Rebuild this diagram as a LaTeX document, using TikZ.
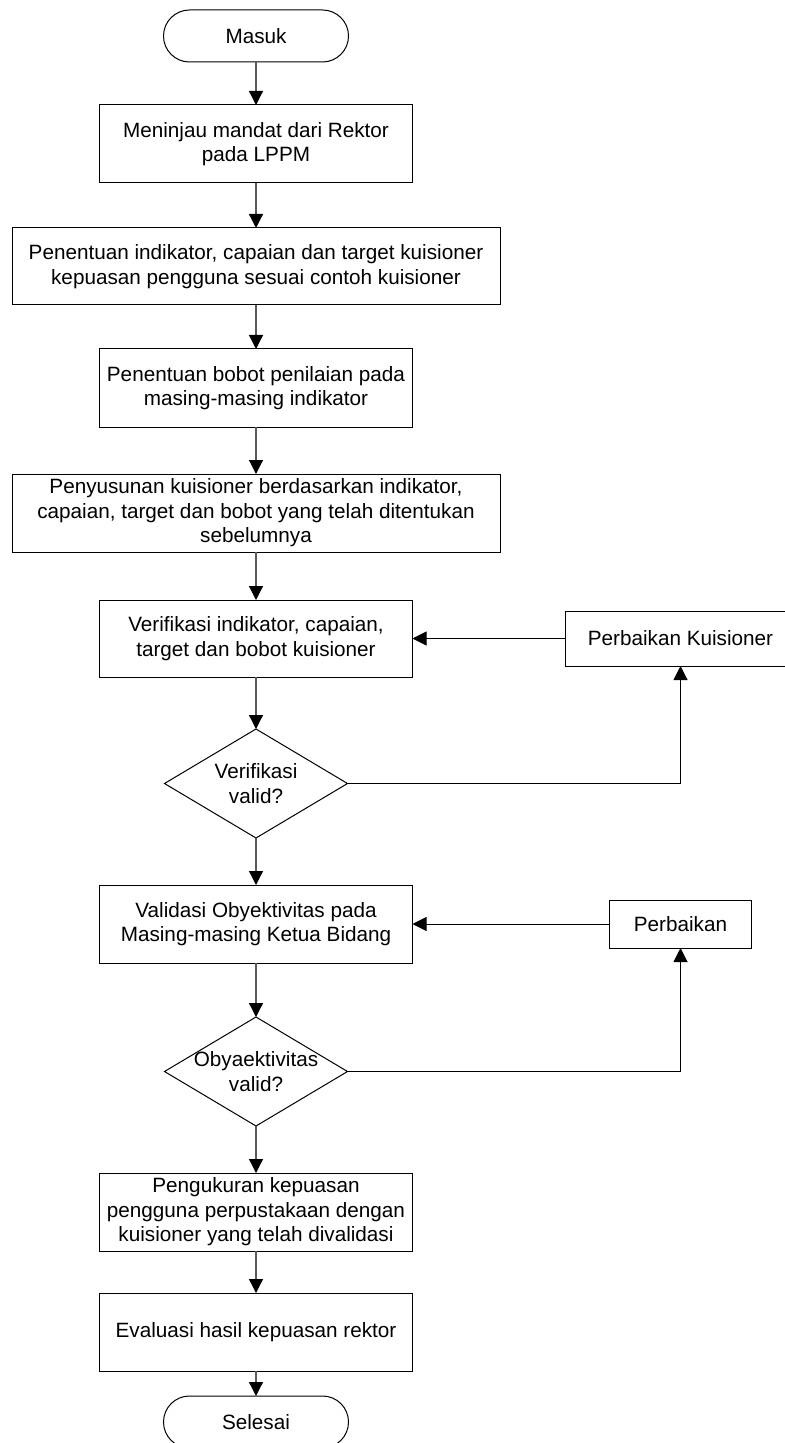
\documentclass[tikz,border=0pt]{standalone}
\usepackage{fontspec}
\setmainfont{Liberation Sans}
\usepackage{tikz}
\usetikzlibrary{shapes.geometric,positioning,arrows.meta}

\begin{document}
\begin{tikzpicture}[line width=0.5pt, >={Triangle[length=7pt,width=7pt,color=black]},
		txt/.style = {align=center, font=\fontsize{10.35}{12.25}\selectfont},
		box/.style = {txt, draw, rectangle, minimum width=156.5pt, minimum height=39pt, inner sep=2pt, outer sep=0pt},
		wide/.style = {box, minimum width=244pt},
		term/.style = {txt, draw, rectangle, rounded corners=13pt, minimum width=92.5pt, minimum height=26pt, outer sep=0pt},
		dec/.style = {draw, diamond, minimum width=91.5pt, minimum height=54.5pt, inner sep=0pt, outer sep=0pt},
		link/.style = {draw=black!65, line width=0.6pt}] 
		\useasboundingbox (0,0) rectangle (392pt,-721.5pt);
		\node[term] (1) at (128pt,-18pt) {Masuk}; 
		\node[box] (2) [below=21.5pt of 1] {Meninjau mandat dari Rektor\\pada LPPM}; 
		\node[wide, minimum height=38.5pt] (3) [below=22.5pt of 2] {Penentuan indikator, capaian dan target kuisioner\\kepuasan pengguna sesuai contoh kuisioner}; 
		\node[box] (4) [below=22pt of 3] {Penentuan bobot penilaian pada\\masing-masing indikator}; 
		\node[wide] (5) [below=23.5pt of 4] {Penyusunan kuisioner berdasarkan indikator,\\capaian, target dan bobot yang telah ditentukan\\sebelumnya}; 
		\node[box, minimum height=38.5pt] (6) [below=24pt of 5] {Verifikasi indikator, capaian,\\target dan bobot kuisioner}; 
		\node[dec] (7) [below=26pt of 6] {}; 
		\node[txt] (7t) at (7) {Verifikasi\\valid?}; 
		\node[box] (8) [below=23.5pt of 7] {Validasi Obyektivitas pada\\Masing-masing Ketua Bidang}; 
		\node[dec] (9) [below=27pt of 8] {}; 
		\node[txt] (9t) at (9) {Obyaektivitas\\valid?}; 
		\node[box] (10) [below=23.5pt of 9] {Pengukuran kepuasan\\pengguna perpustakaan dengan\\kuisioner yang telah divalidasi}; 
		\node[box] (11) [below=21pt of 10] {Evaluasi hasil kepuasan rektor}; 
		\node[term] (12) [below=12.5pt of 11] {Selesai}; 
		\node[box, minimum width=115pt, minimum height=27.5pt] (13) [right=76.5pt of 6] {Perbaikan Kuisioner}; 
		\node[box, minimum width=71pt, minimum height=24pt] (14) [right=98.5pt of 8] {Perbaikan}; 
		\draw[->, link] (1) -- (2);
		\draw[->, link] (2) -- (3);
		\draw[->, link] (3) -- (4);
		\draw[->, link] (4) -- (5);
		\draw[->, link] (5) -- (6);
		\draw[->, link] (6) -- (7);
		\draw[->, link] (7) -- (8);
		\draw[->, link] (8) -- (9);
		\draw[->, link] (9) -- (10);
		\draw[->, link] (10) -- (11);
		\draw[->, link] (11) -- (12);
		\draw[->] (7) -| (13);
		\draw[->] (13) -- (6);
		\draw[->] (9) -| (14);
		\draw[->] (14) -- (8);
	\end{tikzpicture}
\end{document}
